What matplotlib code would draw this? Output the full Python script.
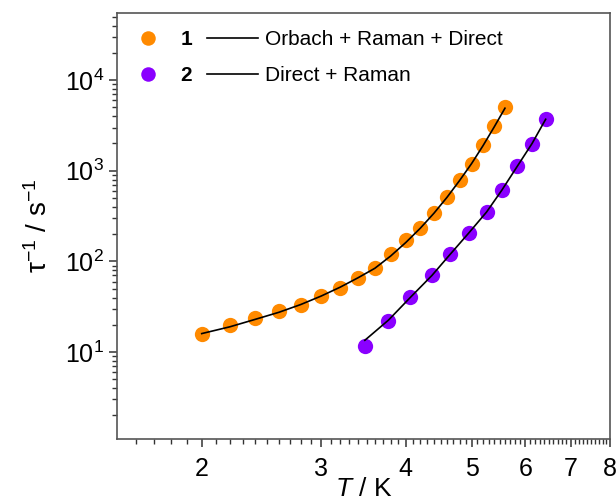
import numpy as np
import matplotlib
matplotlib.use("Agg")
import matplotlib.pyplot as plt
from matplotlib.ticker import FixedLocator, NullFormatter, LogLocator, FixedFormatter

plt.rcParams['font.family'] = ['Liberation Sans', 'DejaVu Sans']
plt.rcParams['mathtext.fontset'] = 'custom'
plt.rcParams['mathtext.rm'] = 'Liberation Sans'
plt.rcParams['mathtext.it'] = 'Liberation Sans:italic'

# compound 1 (Orbach + Raman + Direct)
t1 = [2.0, 2.2, 2.4, 2.6, 2.8, 3.0, 3.2, 3.4, 3.6, 3.8, 4.0, 4.2, 4.4, 4.6, 4.8, 5.0, 5.2, 5.4, 5.6]
rate1 = [15.9, 19.7, 23.9, 28.1, 33.3, 41.2, 50.9, 66.2, 84.6, 122, 171, 234, 345, 514, 786, 1200, 1945, 3100, 5070]
fit1 = [16.0, 19.0, 23.0, 27.5, 33.5, 41.5, 52, 66, 84, 115, 162, 232, 340, 510, 780, 1200, 1900, 3050, 4900]

# compound 2 (Direct + Raman)
t2 = [3.48, 3.77, 4.06, 4.37, 4.65, 4.95, 5.26, 5.54, 5.83, 6.14, 6.43]
rate2 = [11.8, 22.0, 40.5, 71.4, 122, 208, 351, 620, 1122, 1996, 3740]
fit2 = [13.5, 22.5, 40, 70, 120, 205, 350, 610, 1100, 2000, 3700]

x_ticks = [2, 3, 4, 5, 6, 7, 8]
labels = ['1', '2']
models = ['Orbach + Raman + Direct', 'Direct + Raman']

orange = '#FF8A00'
purple = '#8A00FF'

fig = plt.figure(figsize=(6.16, 5.04), dpi=100)
ax = fig.add_axes([117 / 616, 1 - 439 / 504, (610 - 117) / 616, (439 - 13) / 504])

p1, = ax.plot(t1, rate1, 'o', color=orange, ms=11, mec='none', zorder=2)
p2, = ax.plot(t2, rate2, 'o', color=purple, ms=11, mec='none', zorder=2)
l1, = ax.plot(t1, fit1, '-', color='black', lw=1.2, zorder=3)
l2, = ax.plot(t2, fit2, '-', color='black', lw=1.2, zorder=3)

ax.set_xscale('log')
ax.set_yscale('log')
ax.set_xlim(1.5, 8)
ax.set_ylim(1.1, 5.5e4)

ax.xaxis.set_major_locator(FixedLocator(x_ticks))
ax.xaxis.set_major_formatter(FixedFormatter([str(v) for v in x_ticks]))
ax.xaxis.set_minor_locator(FixedLocator(np.arange(1.6, 8.0, 0.1)))
ax.xaxis.set_minor_formatter(NullFormatter())
ax.yaxis.set_major_locator(FixedLocator([10, 100, 1000, 10000]))
ax.yaxis.set_minor_locator(LogLocator(base=10, subs=np.arange(2, 10), numticks=20))
ax.yaxis.set_minor_formatter(NullFormatter())

ax.tick_params(which='major', direction='out', length=6, width=1.1, labelsize=18, colors='#333333', labelcolor='black')
ax.tick_params(which='minor', direction='out', length=3.5, width=1.0, colors='#333333')
ax.tick_params(axis='x', pad=7)
ax.tick_params(top=False, right=False)
for s in ax.spines.values():
    s.set_color('#555555')
    s.set_linewidth(1.2)

ax.set_xlabel(r'$\it{T}$ / K', fontsize=19, labelpad=-3)
ax.set_ylabel(r'τ$^{-1}$ / s$^{-1}$', fontsize=20, labelpad=8)

leg = ax.legend([p1, p2, l1, l2], labels + models, ncol=2, frameon=False,
                loc='upper left', bbox_to_anchor=(122 / 616, 1 - 30 / 504),
                bbox_transform=fig.transFigure, borderpad=0, borderaxespad=0,
                handlelength=2.45, handletextpad=0.34, columnspacing=0.72,
                labelspacing=0.82, fontsize=15, markerscale=0.95)
for txt in leg.get_texts()[:2]:
    txt.set_fontweight('bold')
    txt.set_fontsize(15)

fig.savefig('out.png', dpi=100)
